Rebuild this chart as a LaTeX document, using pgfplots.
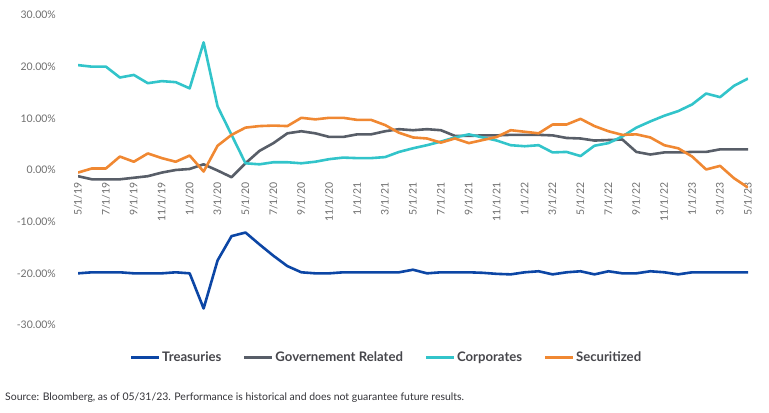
\documentclass[border=0pt]{standalone}
\usepackage{pgfplots}
\pgfplotsset{compat=1.18}
\usepackage{pgfplotstable}
\usepackage{fontspec}
\setmainfont{Lato}
\definecolor{tre}{RGB}{12,70,165}
\definecolor{gov}{RGB}{88,94,104}
\definecolor{cor}{RGB}{50,196,202}
\definecolor{sec}{RGB}{240,136,50}
\definecolor{tickgray}{RGB}{110,110,110}
\definecolor{legtext}{RGB}{70,70,75}
\definecolor{srcgray}{RGB}{50,50,55}
\pgfplotstableread{
x T G C S
0 -20.0 -1.2 20.3 -0.5
1 -19.8 -1.8 20.0 0.3
2 -19.8 -1.8 20.0 0.3
3 -19.8 -1.8 17.9 2.6
4 -20.0 -1.5 18.4 1.6
5 -20.0 -1.2 16.8 3.2
6 -20.0 -0.5 17.2 2.3
7 -19.8 0.0 17.0 1.6
8 -20.0 0.2 15.8 2.8
9 -26.8 1.1 24.7 -0.3
10 -17.5 -0.1 12.3 4.7
11 -12.8 -1.4 6.8 6.8
12 -12.1 1.3 1.3 8.2
13 -14.4 3.7 1.1 8.5
14 -16.6 5.2 1.5 8.6
15 -18.6 7.1 1.5 8.5
16 -19.8 7.5 1.3 10.1
17 -20.0 7.1 1.6 9.8
18 -20.0 6.4 2.1 10.1
19 -19.8 6.4 2.4 10.1
20 -19.8 6.9 2.3 9.7
21 -19.8 6.9 2.3 9.7
22 -19.8 7.5 2.5 8.7
23 -19.8 7.9 3.5 7.2
24 -19.3 7.7 4.2 6.3
25 -20.0 7.9 4.8 6.1
26 -19.8 7.7 5.5 5.3
27 -19.8 6.6 6.3 6.1
28 -19.8 6.6 6.9 5.2
29 -19.9 6.7 6.3 5.8
30 -20.1 6.7 5.7 6.4
31 -20.2 6.8 4.8 7.7
32 -19.8 6.8 4.6 7.4
33 -19.6 6.8 4.8 7.1
34 -20.2 6.7 3.4 8.8
35 -19.8 6.2 3.5 8.8
36 -19.6 6.1 2.7 9.9
37 -20.2 5.7 4.7 8.5
38 -19.6 5.8 5.2 7.5
39 -20.0 5.9 6.5 6.8
40 -20.0 3.5 8.2 6.9
41 -19.6 3.0 9.4 6.3
42 -19.8 3.4 10.5 4.8
43 -20.2 3.4 11.4 4.2
44 -19.8 3.5 12.7 2.6
45 -19.8 3.5 14.8 0.1
46 -19.8 4.0 14.1 0.8
47 -19.8 4.0 16.3 -1.6
48 -19.8 4.0 17.7 -3.4
}\data
\begin{document}
\begin{tikzpicture}[x=1bp,y=1bp]
\path[use as bounding box] (0,0) rectangle (769,412);
\begin{axis}[
  at={(78bp,87bp)}, anchor=south west,
  scale only axis, width=670bp, height=310bp,
  xmin=0, xmax=48, ymin=-30, ymax=30,
  axis x line=middle, axis y line=left, axis line style={draw=none},
  hide obscured x ticks=false, hide obscured y ticks=false,
  major tick length=0pt,
  xtick={0,2,...,48},
  xticklabels={5/1/19,7/1/19,9/1/19,11/1/19,1/1/20,3/1/20,5/1/20,7/1/20,9/1/20,11/1/20,1/1/21,3/1/21,5/1/21,7/1/21,9/1/21,11/1/21,1/1/22,3/1/22,5/1/22,7/1/22,9/1/22,11/1/22,1/1/23,3/1/23,5/1/23},
  x tick label style={yshift=-12bp, rotate=90, anchor=east, inner sep=0pt, font=\fontsize{10.5}{12}\selectfont, text=tickgray},
  ytick={-30,-20,...,30},
  yticklabels={-30.00\%,-20.00\%,-10.00\%,0.00\%,10.00\%,20.00\%,30.00\%},
  y tick label style={anchor=east, inner sep=0pt, xshift=-22bp, font=\fontsize{10.5}{12}\selectfont, text=tickgray},
  legend style={at={(0.46,-0.105)}, anchor=center, legend columns=4, draw=none, fill=none,
    font=\bfseries\fontsize{13.2}{15}\selectfont, text=legtext,
    nodes={inner sep=1.5bp},
    /tikz/every even column/.append style={column sep=20bp}},
  legend image code/.code={\draw[#1, line width=3bp] (0bp,0bp) -- (28bp,0bp);},
  every axis plot/.append style={line width=2.6bp, line join=round},
]
\addplot[tre] table[x=x,y=T]{\data};
\addlegendentry{Treasuries}
\addplot[gov] table[x=x,y=G]{\data};
\addlegendentry{Governement Related}
\addplot[cor] table[x=x,y=C]{\data};
\addlegendentry{Corporates}
\addplot[sec] table[x=x,y=S]{\data};
\addlegendentry{Securitized}
\end{axis}
\node[anchor=west, inner sep=0pt, font=\fontsize{10.5}{12}\selectfont, text=srcgray] at (5,14) {Source: Bloomberg, as of 05/31/23. Performance is historical and does not guarantee future results.};
\end{tikzpicture}
\end{document}
